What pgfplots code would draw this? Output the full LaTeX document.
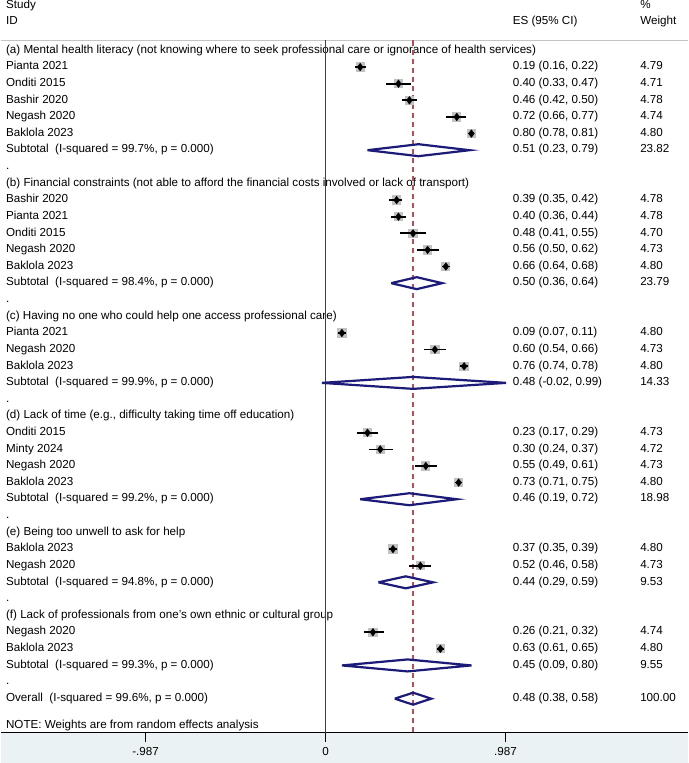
\documentclass[border=0pt]{standalone}
\usepackage{fontspec}
\setmainfont{Liberation Sans}
\usepackage{pgfplots}
\usepackage{pgfplotstable}
\pgfplotsset{compat=1.18}
\definecolor{dnavy}{HTML}{1C1C78}
\definecolor{refred}{HTML}{B0505A}
\definecolor{boxgray}{HTML}{C2C2C2}
\definecolor{outer}{HTML}{EAF2F3}
\definecolor{rule}{HTML}{C4C4C4}

% one row per study: row index, effect size, 95% CI
\pgfplotstableread{
r es lo hi
1 0.19 0.16 0.22
2 0.40 0.33 0.47
3 0.46 0.42 0.50
4 0.72 0.66 0.77
5 0.80 0.78 0.81
9 0.39 0.35 0.42
10 0.40 0.36 0.44
11 0.48 0.41 0.55
12 0.56 0.50 0.62
13 0.66 0.64 0.68
17 0.09 0.07 0.11
18 0.60 0.54 0.66
19 0.76 0.74 0.78
23 0.23 0.17 0.29
24 0.30 0.24 0.37
25 0.55 0.49 0.61
26 0.73 0.71 0.75
30 0.37 0.35 0.39
31 0.52 0.46 0.58
35 0.26 0.21 0.32
36 0.63 0.61 0.65
}\studies

\newcommand\fs{\fontsize{11.6bp}{13bp}\selectfont}
\tikzset{lab/.style={anchor=west, inner sep=0pt, font=\fs, text height=8bp, text depth=2.5bp}}
\newcommand\R[4]{%
  \node[lab] at (axis cs:-1.753,-#1) {#2};
  \node[lab] at (axis cs:1.026,-#1) {#3};
  \node[lab] at (axis cs:1.725,-#1) {#4};}
\newcommand\D[4]{% subtotal diamond: row, es, lo, hi
  \addplot[dnavy, line width=2.2bp, line join=miter] coordinates
    {(#3,-#1) (#2,-#1+0.36) (#4,-#1) (#2,-#1-0.36) (#3,-#1)};}

\begin{document}
\begin{tikzpicture}
\begin{axis}[
  scale only axis,
  width=685bp, height=733bp,
  xmin=-1.781, xmax=1.989,
  ymin=-41.06, ymax=3.2,
  axis lines=none,
  xtick={-0.987,0,0.987},
  xticklabels={-.987,0,.987},
  clip=false,
]
% outer region below the axis
\fill[outer] (axis cs:-1.781,-41.06) rectangle (axis cs:1.989,-42.87);
\draw[rule, line width=1.5bp] (axis cs:-1.781,0.6) -- (axis cs:1.989,0.6);
% axis line, ticks and tick labels
\draw[black, line width=1.1bp] (axis cs:-1.781,-41.06) -- (axis cs:1.989,-41.06);
\draw[black, line width=1.1bp] (axis cs:-0.987,-41.06) -- (axis cs:-0.987,-41.60);
\draw[black, line width=1.1bp] (axis cs:0,-41.06) -- (axis cs:0,-41.60);
\draw[black, line width=1.1bp] (axis cs:0.987,-41.06) -- (axis cs:0.987,-41.60);
\node[font=\fs, inner sep=0pt] at (axis cs:-0.987,-42.18) {-.987};
\node[font=\fs, inner sep=0pt] at (axis cs:0,-42.18) {0};
\node[font=\fs, inner sep=0pt] at (axis cs:0.987,-42.18) {.987};

% header
\node[lab] at (axis cs:-1.753,2.72) {Study};
\node[lab] at (axis cs:-1.753,1.75) {ID};
\node[lab] at (axis cs:1.026,1.75) {ES (95\% CI)};
\node[lab] at (axis cs:1.725,2.72) {\%};
\node[lab] at (axis cs:1.725,1.75) {Weight};

% text rows
\node[lab] at (axis cs:-1.753,0) {(a) Mental health literacy (not knowing where to seek professional care or ignorance of health services)};
\R{1}{Pianta 2021}{0.19 (0.16, 0.22)}{4.79}
\R{2}{Onditi 2015}{0.40 (0.33, 0.47)}{4.71}
\R{3}{Bashir 2020}{0.46 (0.42, 0.50)}{4.78}
\R{4}{Negash 2020}{0.72 (0.66, 0.77)}{4.74}
\R{5}{Baklola 2023}{0.80 (0.78, 0.81)}{4.80}
\R{6}{Subtotal\ \ (I-squared = 99.7\%, p = 0.000)}{0.51 (0.23, 0.79)}{23.82}
\node[lab] at (axis cs:-1.753,-7) {.};
\node[lab] at (axis cs:-1.753,-8) {(b) Financial constraints (not able to afford the financial costs involved or lack of transport)};
\R{9}{Bashir 2020}{0.39 (0.35, 0.42)}{4.78}
\R{10}{Pianta 2021}{0.40 (0.36, 0.44)}{4.78}
\R{11}{Onditi 2015}{0.48 (0.41, 0.55)}{4.70}
\R{12}{Negash 2020}{0.56 (0.50, 0.62)}{4.73}
\R{13}{Baklola 2023}{0.66 (0.64, 0.68)}{4.80}
\R{14}{Subtotal\ \ (I-squared = 98.4\%, p = 0.000)}{0.50 (0.36, 0.64)}{23.79}
\node[lab] at (axis cs:-1.753,-15) {.};
\node[lab] at (axis cs:-1.753,-16) {(c) Having no one who could help one access professional care)};
\R{17}{Pianta 2021}{0.09 (0.07, 0.11)}{4.80}
\R{18}{Negash 2020}{0.60 (0.54, 0.66)}{4.73}
\R{19}{Baklola 2023}{0.76 (0.74, 0.78)}{4.80}
\R{20}{Subtotal\ \ (I-squared = 99.9\%, p = 0.000)}{0.48 (-0.02, 0.99)}{14.33}
\node[lab] at (axis cs:-1.753,-21) {.};
\node[lab] at (axis cs:-1.753,-22) {(d) Lack of time (e.g., difficulty taking time off education)};
\R{23}{Onditi 2015}{0.23 (0.17, 0.29)}{4.73}
\R{24}{Minty 2024}{0.30 (0.24, 0.37)}{4.72}
\R{25}{Negash 2020}{0.55 (0.49, 0.61)}{4.73}
\R{26}{Baklola 2023}{0.73 (0.71, 0.75)}{4.80}
\R{27}{Subtotal\ \ (I-squared = 99.2\%, p = 0.000)}{0.46 (0.19, 0.72)}{18.98}
\node[lab] at (axis cs:-1.753,-28) {.};
\node[lab] at (axis cs:-1.753,-29) {(e) Being too unwell to ask for help};
\R{30}{Baklola 2023}{0.37 (0.35, 0.39)}{4.80}
\R{31}{Negash 2020}{0.52 (0.46, 0.58)}{4.73}
\R{32}{Subtotal\ \ (I-squared = 94.8\%, p = 0.000)}{0.44 (0.29, 0.59)}{9.53}
\node[lab] at (axis cs:-1.753,-33) {.};
\node[lab] at (axis cs:-1.753,-34) {(f) Lack of professionals from one's own ethnic or cultural group};
\R{35}{Negash 2020}{0.26 (0.21, 0.32)}{4.74}
\R{36}{Baklola 2023}{0.63 (0.61, 0.65)}{4.80}
\R{37}{Subtotal\ \ (I-squared = 99.3\%, p = 0.000)}{0.45 (0.09, 0.80)}{9.55}
\node[lab] at (axis cs:-1.753,-38) {.};
\R{39}{Overall\ \ (I-squared = 99.6\%, p = 0.000)}{0.48 (0.38, 0.58)}{100.00}
\node[lab] at (axis cs:-1.753,-40.6) {NOTE: Weights are from random effects analysis};

% reference lines
\draw[black!75, line width=1.3bp] (axis cs:0,0.6) -- (axis cs:0,-41.06);
\draw[refred, line width=1.1bp, dash pattern=on 5bp off 4bp] (axis cs:0.48,0.6) -- (axis cs:0.48,-41.06);

% weight boxes (short thick strokes, equal weights ~4.8%)
\addplot[boxgray, line width=9.2bp, quiver={u=0.0506, v=0}, -]
  table[x expr=\thisrow{es}-0.0253, y expr=-\thisrow{r}] {\studies};
% 95% CIs
\addplot[black, line width=1.7bp, quiver={u=\thisrow{hi}-\thisrow{lo}, v=0}, -]
  table[x=lo, y expr=-\thisrow{r}] {\studies};
% point estimates
\addplot[black, only marks, mark=diamond*, mark size=3.8bp, mark options={fill=black, draw=black}]
  table[x=es, y expr=-\thisrow{r}] {\studies};

% pooled estimates
\D{6}{0.51}{0.23}{0.79}
\D{14}{0.50}{0.36}{0.64}
\D{20}{0.48}{-0.02}{0.99}
\D{27}{0.46}{0.19}{0.72}
\D{32}{0.44}{0.29}{0.59}
\D{37}{0.45}{0.09}{0.80}
\D{39}{0.48}{0.38}{0.58}
\end{axis}
\end{tikzpicture}
\end{document}
